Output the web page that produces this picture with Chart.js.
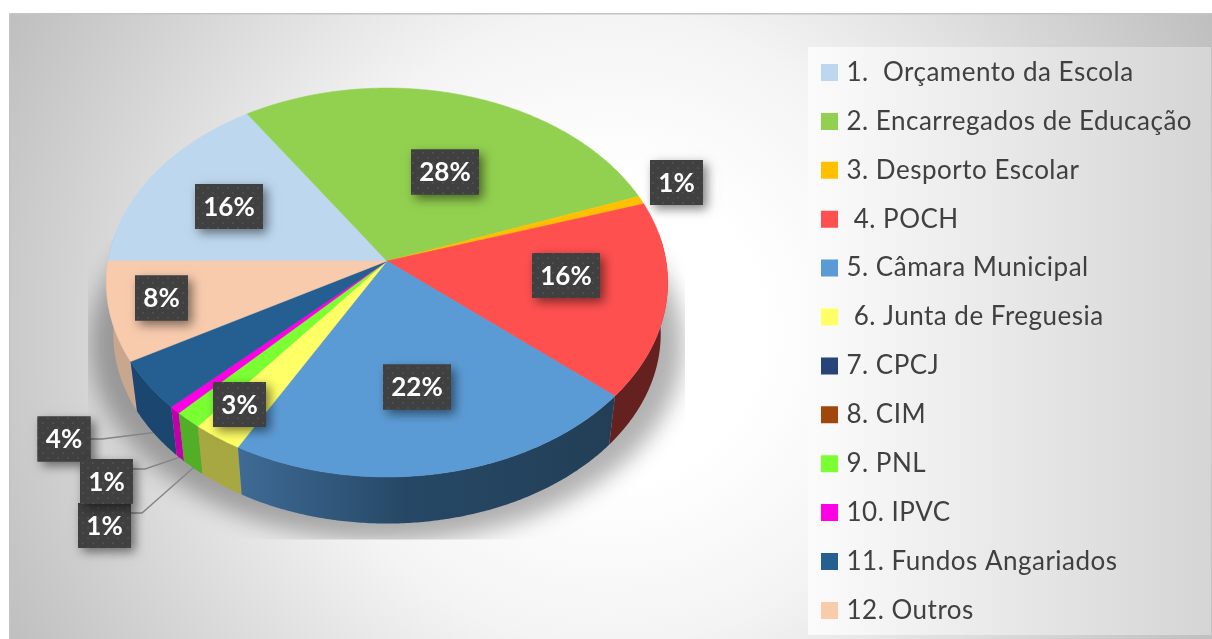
<!DOCTYPE html>
<html><head><meta charset="utf-8">
<style>html,body{margin:0;padding:0;background:#fff;overflow:hidden}canvas{display:block}</style>
<script src="https://cdn.jsdelivr.net/npm/chart.js@4"></script>
</head><body><canvas id="c" width="1212" height="639"></canvas>
<script>
const categories = ['1.  Orçamento da Escola','2. Encarregados de Educação','3. Desporto Escolar',' 4. POCH','5. Câmara Municipal',' 6. Junta de Freguesia','7. CPCJ','8. CIM','9. PNL','10. IPVC','11. Fundos Angariados','12. Outros'];
const shares = [15.7,28.4,0.7,16.2,21.6,2.6,0,0,1.4,0.6,4.1,8.2];
const sliceColors = ['#BDD7EE','#92D050','#FFC000','#FF5050','#5B9BD5','#FFFF66','#264478','#9E480E','#7AFF33','#FF00E6','#255E91','#F8CBAD'];
const wallColors = ['#8fa3b4','#6e9c3c','#c09000','#652020','#2f5578','#a8a842','#1c335a','#77360a','#52ad27','#c000a8','#1a4670','#c9a78f'];
const labelCenters = [[229,206.5],[445,172],[676.5,182.5],[566,275.5],[417,387],[239.5,404.5],null,null,[104.5,525.5],[106.5,481.5],[64,439],[161.5,298]];
const leaderElbows = {8:[142,513],9:[145,469],10:[102,439]};

const PERSP = 0.1105, KY = 0.6885;
function proj(el, a, f, low){
  const X = f*Math.cos(a), Y = f*Math.sin(a), s = 1/(1-PERSP*Y), R = el.outerRadius;
  const m = low ? 0.975 : 1;
  return [el.x + m*R*X*s, el.y + (low?52:0) + m*R*KY*Y*s];
}
function dotPattern(ctx){
  const p = document.createElement('canvas'); p.width = p.height = 10;
  const g = p.getContext('2d');
  g.fillStyle = '#404040'; g.fillRect(0,0,10,10);
  g.fillStyle = '#4d4d4d';
  g.fillRect(2,2,2,2); g.fillRect(7,7,2,2);
  return ctx.createPattern(p,'repeat');
}
const scene = {
  id:'scene',
  afterLayout(chart){
    const a = chart.chartArea;
    a.left=90; a.right=684; a.top=0; a.bottom=522; a.width=594; a.height=522;
    const lg = chart.legend, pad = lg.options.labels.padding;
    lg.left = 825.5-pad; lg.right = 1212;
    lg.top = 59.5-pad; lg.bottom = 700;
  },
  beforeDraw(chart){
    const c = chart.ctx;
    c.save();
    c.fillStyle='#fff'; c.fillRect(0,0,1212,639);
    const g = c.createRadialGradient(610,330,150,610,330,690);
    g.addColorStop(0,'#ffffff'); g.addColorStop(0.3,'#f4f4f4'); g.addColorStop(1,'#bdbdbd');
    c.fillStyle=g; c.fillRect(9,13,1203,626);
    c.fillStyle='#c4c4c4'; c.fillRect(9,13,1203,1.5); c.fillRect(9,13,1.5,626);
    const g2 = c.createLinearGradient(808,0,1211,0);
    g2.addColorStop(0,'#fbfbfb'); g2.addColorStop(1,'#d5d5d5');
    c.fillStyle=g2; c.fillRect(808,47,403,588);
    c.restore();
    c.letterSpacing='0.5px';
  },
  beforeDatasetsDraw(chart){
    const c = chart.ctx, meta = chart.getDatasetMeta(0), els = meta.data, step = Math.PI/180;
    const e0 = els[0];
    // soft cast shadow, clipped as in the reference
    c.save();
    c.beginPath(); c.rect(88,240,597,299.5); c.clip();
    c.filter='blur(11px)';
    c.fillStyle='rgba(0,0,0,0.3)';
    c.beginPath(); c.ellipse(e0.x, 345, 296, 196, 0, 0, Math.PI*2); c.fill();
    c.restore();
    // leader lines
    c.save(); c.strokeStyle='#858585'; c.lineWidth=1.4;
    Object.keys(leaderElbows).forEach(k=>{
      const i=+k, el=els[i], mid=(el.startAngle+el.endAngle)/2, b=labelCenters[i], e=leaderElbows[k];
      const p=proj(el,mid,0.985,true);
      c.beginPath(); c.moveTo(b[0],e[1]); c.lineTo(e[0],e[1]); c.lineTo(p[0],p[1]); c.stroke();
    });
    c.restore();
    // walls: visible front rim only, outer slices first
    const lo = -0.15, hi = Math.PI+0.15;
    const order = els.map((el,i)=>i).sort((a,b)=>{
      const d = x=>Math.abs(((els[x].startAngle+els[x].endAngle)/2 % (2*Math.PI)+2*Math.PI)%(2*Math.PI)-Math.PI/2);
      return d(b)-d(a);
    });
    order.forEach(i=>{
      const el=els[i];
      if(el.endAngle-el.startAngle<1e-5) return;
      [0,2*Math.PI].forEach(off=>{
        const s=Math.max(el.startAngle-off,lo), t=Math.min(el.endAngle-off,hi);
        if(t<=s) return;
        c.beginPath();
        for(let a=s;;a+=step/2){const q=Math.min(a,t),p=proj(el,q,1,false); c.lineTo(p[0],p[1]); if(a>=t)break;}
        for(let a=t;;a-=step/2){const q=Math.max(a,s),p=proj(el,q,1,true); c.lineTo(p[0],p[1]); if(a<=s)break;}
        c.closePath();
        if(i===4){
          const g=c.createLinearGradient(237,0,610,0);
          g.addColorStop(0,'#3f6b96'); g.addColorStop(0.45,'#264866'); g.addColorStop(1,'#233f57');
          c.fillStyle=g;
        } else c.fillStyle=wallColors[i];
        c.fill();
      });
    });
    // top faces
    els.forEach((el,i)=>{
      if(el.endAngle-el.startAngle<1e-5) return;
      c.beginPath(); c.moveTo(el.x,el.y);
      for(let a=el.startAngle;;a+=step/2){const q=Math.min(a,el.endAngle),p=proj(el,q,1,false); c.lineTo(p[0],p[1]); if(a>=el.endAngle)break;}
      c.closePath();
      c.fillStyle=el.options.backgroundColor; c.fill();
      c.strokeStyle=el.options.backgroundColor; c.lineWidth=0.5; c.stroke();
    });
    return false;
  },
  afterDraw(chart){
    const c = chart.ctx, pat = dotPattern(c);
    c.save();
    c.letterSpacing='0px';
    c.font='700 26px Lato'; c.textAlign='center'; c.textBaseline='middle';
    [11,0,1,2,3,4,5,10,8,9].forEach(i=>{
      const ctr=labelCenters[i]; if(!ctr) return;
      const t=Math.round(shares[i])+'%', h=45, w=t.length>2?68:53;
      c.save();
      c.shadowColor='rgba(0,0,0,0.5)'; c.shadowBlur=10; c.shadowOffsetX=4; c.shadowOffsetY=4;
      c.fillStyle='#404040'; c.fillRect(ctr[0]-w/2,ctr[1]-h/2,w,h);
      c.restore();
      c.fillStyle=pat; c.fillRect(ctr[0]-w/2,ctr[1]-h/2,w,h);
      c.fillStyle='#fff'; c.fillText(t,ctr[0],ctr[1]+1);
    });
    c.restore();
  }
};
new Chart(document.getElementById('c'),{
  type:'pie',
  data:{labels:categories,datasets:[{data:shares,backgroundColor:sliceColors,borderWidth:0}]},
  options:{
    responsive:false,animation:false,rotation:270,radius:279,
    layout:{padding:0},
    plugins:{
      tooltip:{enabled:false},
      legend:{
        position:'right',align:'start',
        labels:{
          boxWidth:8,boxHeight:8,padding:22.9,color:'#404040',
          font:{family:'Lato',size:26},
          generateLabels(ch){
            return Chart.overrides.pie.plugins.legend.labels.generateLabels(ch).map(l=>({...l,lineWidth:9,strokeStyle:l.fillStyle,hidden:false}));
          }
        }
      }
    }
  },
  plugins:[scene]
});
</script></body></html>
